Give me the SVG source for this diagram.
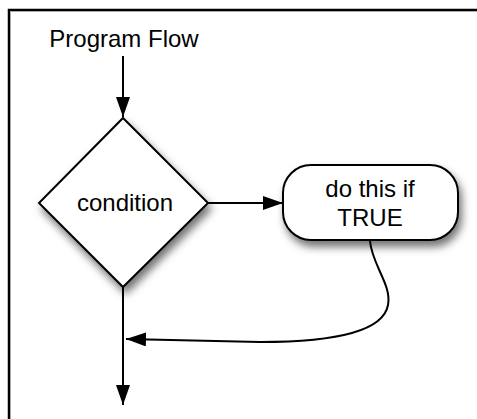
<svg xmlns="http://www.w3.org/2000/svg" width="477" height="419" viewBox="0 0 477 419">
<style>
text{font-family:"Liberation Sans",Arial,sans-serif;font-size:24px;fill:#000;text-anchor:middle}
.shape{fill:#fff;stroke:#000;stroke-width:2}
.conn{fill:none;stroke:#000;stroke-width:2}
</style>
<defs>
<marker id="arrB" viewBox="0 0 20 14" refX="20" refY="7" markerWidth="20" markerHeight="14" markerUnits="userSpaceOnUse" orient="auto">
<path d="M0,0 L20,7 L0,14 Z" fill="#000"/>
</marker>
<filter id="sh" x="-20%" y="-20%" width="150%" height="150%">
<feDropShadow dx="3" dy="6" stdDeviation="4" flood-color="#000" flood-opacity="0.55"/>
</filter>
</defs>
<rect x="0" y="0" width="477" height="419" fill="#fff"/>
<path d="M9,419 V10 H477" fill="none" stroke="#000" stroke-width="2.5"/>
<path d="M10.5,419 V11.5 H477" fill="none" stroke="#aaa" stroke-width="1"/>
<g id="label-program-flow">
<text x="124" y="47">Program Flow</text>
</g>
<g id="connectors">
<line class="conn" x1="123" y1="56" x2="123" y2="117" marker-end="url(#arrB)"/>
<line class="conn" x1="208" y1="203" x2="283" y2="203" marker-end="url(#arrB)"/>
<path class="conn" d="M370,241 C372,265 392,285 388,305 C383,333 330,342 260,342 L126,339" marker-end="url(#arrB)"/>
<line class="conn" x1="123" y1="287" x2="123" y2="405" marker-end="url(#arrB)"/>
</g>
<g id="node-condition">
<polygon class="shape" filter="url(#sh)" points="123,118 208,203 123,287 39,203"/>
<text x="125" y="211">condition</text>
</g>
<g id="node-do-this">
<rect class="shape" filter="url(#sh)" x="283" y="165" width="175" height="75" rx="28" ry="28"/>
<text x="370" y="197">do this if</text>
<text x="370" y="226">TRUE</text>
</g>
</svg>
